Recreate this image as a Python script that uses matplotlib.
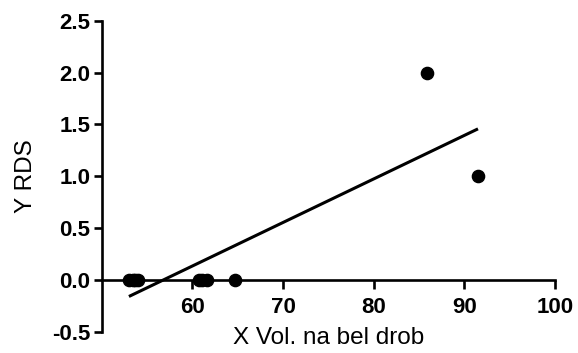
import numpy as np
import matplotlib
matplotlib.use("Agg")
import matplotlib.pyplot as plt

# --- dati ---
vol_bel_drob = [53.0, 53.4, 53.7, 54.0, 60.7, 61.1, 61.6, 64.65, 85.9, 91.5]
rds = [0, 0, 0, 0, 0, 0, 0, 0, 2, 1]
x_ticks = [60, 70, 80, 90, 100]
y_ticks = [-0.5, 0.0, 0.5, 1.0, 1.5, 2.0, 2.5]

plt.rcParams['font.family'] = ['Liberation Sans', 'DejaVu Sans']

fig = plt.figure(figsize=(5.78, 3.53), dpi=100)
ax = fig.add_axes([0.1760, 0.0603, 0.7843, 0.881])

x = np.array(vol_bel_drob)
y = np.array(rds)

# retta di regressione lineare sull'intervallo dei dati
slope, intercept = np.polyfit(x, y, 1)
xr = np.array([x.min(), x.max()])
ax.plot(xr, slope * xr + intercept, color='black', lw=2.2, solid_capstyle='butt', zorder=2)

ax.plot(x, y, 'o', color='black', markersize=8.8, zorder=3, clip_on=False)

ax.set_xlim(50, 100)
ax.set_ylim(-0.5, 2.5)
ax.set_xticks(x_ticks)
ax.set_yticks(y_ticks)
ax.set_yticklabels([f"{v:.1f}" for v in y_ticks])

ax.spines['top'].set_visible(False)
ax.spines['right'].set_visible(False)
ax.spines['bottom'].set_position(('data', 0))
for s in ('left', 'bottom'):
    ax.spines[s].set_linewidth(1.9)
ax.tick_params(width=1.9, direction='out', labelsize=16)
ax.tick_params(axis='x', length=6.5, pad=6)
ax.tick_params(axis='y', length=5.5, pad=2.5)
for lab in ax.get_xticklabels() + ax.get_yticklabels():
    lab.set_fontweight('bold')

ax.set_xlabel('X Vol. na bel drob', fontsize=17.5)
ax.set_ylabel('Y RDS', fontsize=17.5)
ax.xaxis.set_label_coords(0.5, 0.015)
ax.yaxis.set_label_coords(-0.143, 0.5)

fig.savefig('out.png', dpi=100)
